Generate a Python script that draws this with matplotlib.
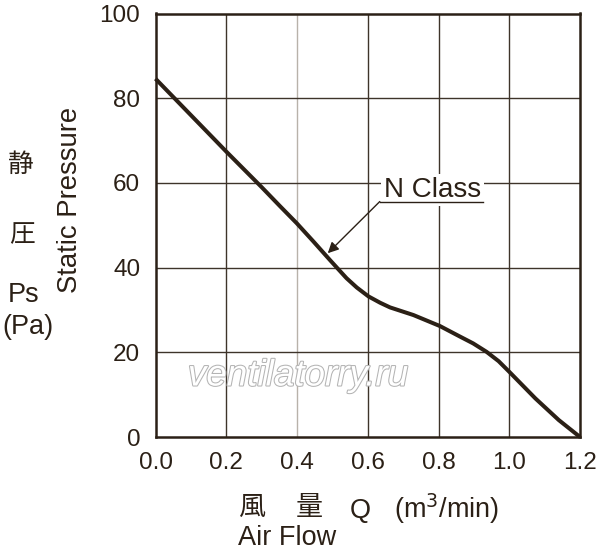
import matplotlib.pyplot as plt
import matplotlib.patheffects as pe

plt.rcParams['font.family'] = ['Liberation Sans', 'Noto Sans CJK JP', 'DejaVu Sans']

# fan curve, N Class
flow = [0.0, 0.1, 0.2, 0.3, 0.352, 0.399, 0.446, 0.493, 0.517, 0.540,
        0.569, 0.602, 0.635, 0.663, 0.729, 0.804, 0.861, 0.898, 0.936,
        0.970, 1.0, 1.074, 1.14, 1.2]
pressure = [84.6, 76.0, 67.4, 59.0, 54.5, 50.5, 46.2, 41.8, 39.6, 37.5,
            35.3, 33.2, 31.7, 30.6, 28.8, 26.2, 23.7, 22.1, 20.1,
            17.9, 15.4, 9.1, 4.0, 0.0]

x_ticks = [0.0, 0.2, 0.4, 0.6, 0.8, 1.0, 1.2]
y_ticks = [0, 20, 40, 60, 80, 100]

INK = "#2b2016"
GRID = "#3e342a"

fig = plt.figure(figsize=(6, 5.5), dpi=100)
ax = fig.add_axes([155.5 / 600, 1 - 437 / 550, 424.5 / 600, 423.5 / 550])

ax.set_xlim(0, 1.2)
ax.set_ylim(0, 100)
ax.set_xticks(x_ticks)
ax.set_xticklabels([f"{v:.1f}" for v in x_ticks])
ax.set_yticks(y_ticks)
ax.tick_params(length=0, labelsize=17.5, colors=INK, pad=11)

for x in x_ticks[1:-1]:
    ax.axvline(x, color="#b8b2aa" if x == 0.4 else GRID, lw=1.0, zorder=1)
for y in y_ticks[1:-1]:
    ax.axhline(y, color=GRID, lw=1.0, zorder=1)
for s in ax.spines.values():
    s.set_color(INK)
    s.set_linewidth(1.8)

ax.plot(flow, pressure, color=INK, lw=2.9, zorder=3, clip_on=False,
        solid_capstyle="butt", solid_joinstyle="round")

# watermark
ax.text(0.403, 14.4, "ventilatorry.ru", fontsize=26.5, style="italic",
        color="white", ha="center", va="center", zorder=2,
        path_effects=[pe.withStroke(linewidth=1.5, foreground="#b4b4b4")])

# label with underline and arrow
ax.text(0.783, 56.7, "N Class", fontsize=20, color=INK, ha="center",
        va="baseline", zorder=4,
        bbox=dict(facecolor="white", edgecolor="none", pad=2))
ax.plot([0.634, 0.925], [55.6, 55.6], color=INK, lw=1.0, zorder=4)
ax.annotate("", xy=(0.487, 43.4), xytext=(0.634, 55.6),
            arrowprops=dict(arrowstyle="-|>", color=INK, lw=1.0,
                            mutation_scale=16, shrinkA=0, shrinkB=0),
            zorder=4)

# y axis labels
fig.text(20.5 / 600, 1 - 165 / 550, "静", fontsize=18.5, color=INK, ha="center", va="center")
fig.text(21.5 / 600, 1 - 235 / 550, "圧", fontsize=18.5, color=INK, ha="center", va="center")
fig.text(23.5 / 600, 1 - 302 / 550, "Ps", fontsize=19.5, color=INK, ha="center", va="baseline")
fig.text(28 / 600, 1 - 334 / 550, "(Pa)", fontsize=19.5, color=INK, ha="center", va="baseline")
fig.text(77 / 600, 1 - 200 / 550, "Static Pressure", fontsize=19.8, color=INK,
         rotation=90, ha="center", va="baseline", rotation_mode="anchor")

# x axis labels
fig.text(252 / 600, 1 - 508 / 550, "風", fontsize=19.5, color=INK, ha="center", va="center")
fig.text(309 / 600, 1 - 508 / 550, "量", fontsize=19.5, color=INK, ha="center", va="center")
fig.text(360.5 / 600, 1 - 518 / 550, "Q", fontsize=19.5, color=INK, ha="center", va="baseline")
fig.text(446.5 / 600, 1 - 518 / 550, "(m$^3$/min)", fontsize=19.5, color=INK,
         ha="center", va="baseline")
fig.text(238 / 600, 1 - 545 / 550, "Air Flow", fontsize=19.5, color=INK,
         ha="left", va="baseline")

fig.savefig("out.png", dpi=100)
